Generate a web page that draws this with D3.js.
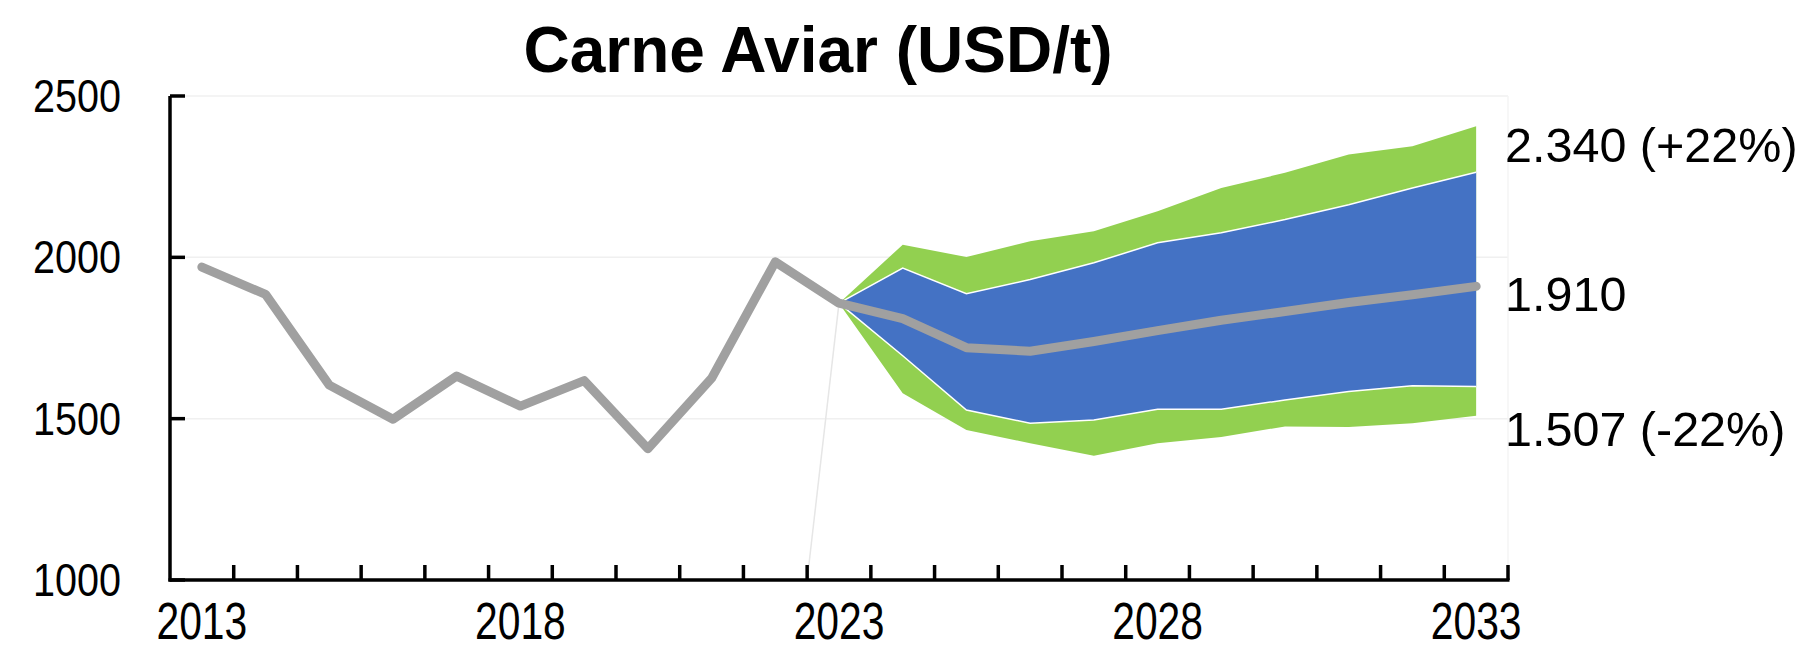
<!DOCTYPE html>
<html lang="es">
<head>
<meta charset="UTF-8">
<title>Carne Aviar (USD/t)</title>
<script src="https://cdn.jsdelivr.net/npm/d3@7"></script>
<style>
    body { margin: 0; background: #fff; }
    text { font-family: "Liberation Sans", Arial, sans-serif; fill: #000; }
</style>
</head>
<body>
<script>
    // datos
    var years = ["2013", "2014", "2015", "2016", "2017", "2018", "2019", "2020", "2021", "2022", "2023",
        "2024", "2025", "2026", "2027", "2028", "2029", "2030", "2031", "2032", "2033"];
    var precio = [1970, 1885, 1604, 1498, 1632, 1539, 1618, 1407, 1625, 1986, 1858,
        1810, 1720, 1709, 1739, 1773, 1805, 1832, 1860, 1884, 1910];
    var proyYears = ["2023", "2024", "2025", "2026", "2027", "2028", "2029", "2030", "2031", "2032", "2033"];
    var azulAlto = [1858, 1967, 1887, 1931, 1983, 2045, 2076, 2117, 2163, 2215, 2264];
    var azulBajo = [1858, 1695, 1527, 1486, 1496, 1529, 1529, 1558, 1584, 1602, 1600];
    var verdeAlto = [1858, 2039, 2001, 2050, 2081, 2143, 2215, 2262, 2319, 2344, 2406];
    var verdeBajo = [1858, 1579, 1465, 1424, 1385, 1424, 1443, 1476, 1474, 1486, 1509];
    var yTicks = [1000, 1500, 2000, 2500];
    var xTickLabels = ["2013", "2018", "2023", "2028", "2033"];
    var etiquetas = ["2.340 (+22%)", "1.910", "1.507 (-22%)"];
    var etiquetaPos = [2351, 1891, 1471];

    var width = 1804, height = 645;
    var pLeft = 170, pRight = 1508, pTop = 96, pBottom = 580;

    var svg = d3.select("body").append("svg")
        .attr("width", width)
        .attr("height", height);

    var x = d3.scaleBand().domain(years).range([pLeft, pRight]).padding(0);
    var y = d3.scaleLinear().domain([1000, 2500]).range([pBottom, pTop]);
    var cx = function (yr) { return x(yr) + x.bandwidth() / 2; };

    // titulo
    svg.append("text")
        .attr("x", 818).attr("y", 72)
        .attr("text-anchor", "middle")
        .attr("font-size", 64)
        .attr("font-weight", "bold")
        .text("Carne Aviar (USD/t)");

    // lineas guia muy claras
    svg.selectAll("line.grid")
        .data(yTicks.slice(1))
        .enter().append("line")
        .attr("x1", pLeft).attr("x2", pRight)
        .attr("y1", d => y(d)).attr("y2", d => y(d))
        .attr("stroke", "#f0f0f0").attr("stroke-width", 1.5);
    svg.append("line")
        .attr("x1", pRight).attr("x2", pRight)
        .attr("y1", y(2500)).attr("y2", y(1000))
        .attr("stroke", "#f4f4f4").attr("stroke-width", 1.5);

    // linea diagonal tenue
    svg.append("line")
        .attr("x1", cx("2023")).attr("y1", y(precio[10]))
        .attr("x2", x("2023")).attr("y2", y(1000))
        .attr("stroke", "#e6e6e6").attr("stroke-width", 1.5);

    // bandas
    var area = function (lo, hi) {
        return d3.area()
            .x((d, i) => cx(proyYears[i]))
            .y0((d, i) => y(lo[i]))
            .y1((d, i) => y(hi[i]))(proyYears);
    };
    svg.append("path").attr("d", area(verdeBajo, verdeAlto)).attr("fill", "#92d050");
    svg.append("path").attr("d", area(azulBajo, azulAlto)).attr("fill", "#4472c4");

    var borde = d3.line().x((d, i) => cx(proyYears[i])).y(d => y(d));
    [azulAlto, azulBajo].forEach(function (s) {
        svg.append("path").attr("d", borde(s))
            .attr("fill", "none").attr("stroke", "#fff").attr("stroke-width", 1.5);
    });

    // precio
    var linea = d3.line().x((d, i) => cx(years[i])).y(d => y(d));
    svg.append("path")
        .attr("d", linea(precio))
        .attr("fill", "none")
        .attr("stroke", "#a0a0a0")
        .attr("stroke-width", 9)
        .attr("stroke-linejoin", "round")
        .attr("stroke-linecap", "round");

    // eje y
    svg.append("line")
        .attr("x1", pLeft).attr("x2", pLeft)
        .attr("y1", y(2500)).attr("y2", y(1000) + 1.5)
        .attr("stroke", "#000").attr("stroke-width", 3.5);
    svg.selectAll("line.yt")
        .data(yTicks)
        .enter().append("line")
        .attr("x1", pLeft).attr("x2", pLeft + 15)
        .attr("y1", d => y(d)).attr("y2", d => y(d))
        .attr("stroke", "#000").attr("stroke-width", 3.5);
    svg.selectAll("text.yl")
        .data(yTicks)
        .enter().append("text")
        .attr("transform", d => "translate(121," + (y(d) + 16) + ") scale(0.86,1)")
        .attr("text-anchor", "end")
        .attr("font-size", 46)
        .text(d => d);

    // eje x
    svg.append("line")
        .attr("x1", pLeft - 1.5).attr("x2", pRight + 1.5)
        .attr("y1", pBottom).attr("y2", pBottom)
        .attr("stroke", "#000").attr("stroke-width", 3.5);
    svg.selectAll("line.xt")
        .data(years)
        .enter().append("line")
        .attr("x1", d => x(d) + x.bandwidth()).attr("x2", d => x(d) + x.bandwidth())
        .attr("y1", pBottom).attr("y2", pBottom - 15)
        .attr("stroke", "#000").attr("stroke-width", 3.5);
    svg.selectAll("text.xl")
        .data(xTickLabels)
        .enter().append("text")
        .attr("transform", d => "translate(" + cx(d) + ",639) scale(0.8,1)")
        .attr("text-anchor", "middle")
        .attr("font-size", 51)
        .text(d => d);

    // etiquetas a la derecha
    svg.selectAll("text.et")
        .data(etiquetas)
        .enter().append("text")
        .attr("x", 1505)
        .attr("y", (d, i) => y(etiquetaPos[i]) + 18)
        .attr("font-size", 48.5)
        .text(d => d);
</script>
</body>
</html>
